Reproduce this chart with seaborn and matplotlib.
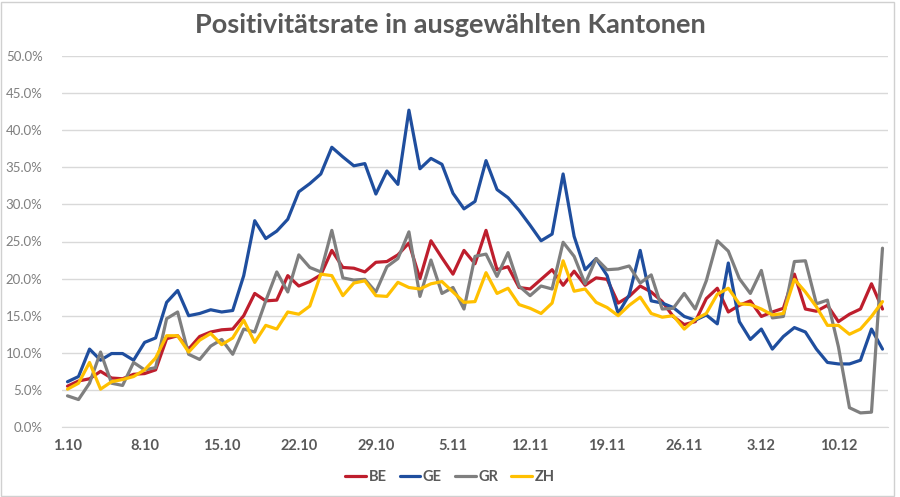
import numpy as np
import pandas as pd
import matplotlib
matplotlib.use("Agg")
import matplotlib.pyplot as plt
import seaborn as sns
from matplotlib.patches import Rectangle
from matplotlib.ticker import FixedLocator, PercentFormatter

# daily positivity rate (%) from 1.10 to 14.12
dates = pd.date_range("2020-10-01", "2020-12-14", freq="D")

be = [5.5, 6.2, 6.5, 7.5, 6.6, 6.5, 7.1, 7.2, 7.7, 11.9, 12.3, 10.5, 12.2, 12.8, 13.1, 13.2, 15.0, 18.0, 17.0,
      17.1, 20.4, 19.0, 19.6, 20.5, 23.8, 21.5, 21.4, 20.9, 22.2, 22.3, 23.2, 24.8, 20.0, 25.1, 22.8, 20.6, 23.8, 22.0,
      26.5, 21.2, 21.6, 18.8, 18.6, 19.9, 21.2, 19.1, 21.0, 19.1, 20.1, 19.9, 16.7, 17.6, 19.0, 18.2, 16.9, 14.9, 13.8,
      14.2, 17.3, 18.7, 15.5, 16.4, 17.0, 14.9, 15.5, 16.0, 20.6, 15.9, 15.6, 16.4, 14.2, 15.2, 15.9, 19.3, 15.9]
ge = [6.1, 6.8, 10.5, 9.0, 9.9, 9.9, 9.0, 11.4, 12.0, 16.8, 18.4, 15.0, 15.3, 15.8, 15.5, 15.7, 20.4, 27.8, 25.4,
      26.4, 28.0, 31.7, 32.8, 34.1, 37.7, 36.4, 35.2, 35.5, 31.4, 34.5, 32.7, 42.7, 34.8, 36.2, 35.4, 31.5, 29.4, 30.4,
      35.9, 32.0, 30.9, 29.2, 27.2, 25.1, 26.0, 34.1, 25.7, 21.2, 22.7, 20.4, 15.3, 17.8, 23.8, 17.0, 16.7, 16.1, 14.9,
      14.4, 15.1, 13.9, 22.1, 14.2, 11.8, 13.2, 10.5, 12.2, 13.4, 12.8, 10.5, 8.7, 8.5, 8.5, 9.0, 13.2, 10.5]
gr = [4.2, 3.7, 5.9, 10.1, 5.9, 5.6, 8.7, 7.7, 8.0, 14.6, 15.5, 9.8, 9.1, 10.9, 11.8, 9.8, 13.2, 12.8, 17.0,
      20.9, 18.2, 23.2, 21.5, 20.9, 26.5, 20.1, 19.8, 19.9, 18.2, 21.6, 22.7, 26.3, 17.6, 22.5, 18.0, 18.8, 15.9, 23.0,
      23.3, 20.3, 23.5, 19.0, 17.7, 19.0, 18.6, 24.9, 23.0, 19.3, 22.7, 21.2, 21.3, 21.7, 19.4, 20.5, 15.9, 16.0, 18.0,
      15.9, 19.7, 25.1, 23.7, 20.0, 18.0, 21.1, 14.7, 14.9, 22.3, 22.4, 16.6, 17.1, 10.8, 2.6, 1.9, 2.0, 24.1]
zh = [5.1, 5.9, 8.7, 5.1, 6.1, 6.4, 6.8, 7.7, 9.3, 12.3, 12.3, 10.1, 11.7, 12.6, 11.1, 12.0, 14.4, 11.4, 13.7,
      13.2, 15.5, 15.2, 16.3, 20.6, 20.4, 17.7, 19.4, 19.7, 17.7, 17.6, 19.5, 18.8, 18.6, 19.3, 19.6, 18.2, 16.8, 16.9,
      20.8, 18.0, 18.7, 16.5, 16.0, 15.3, 16.7, 22.4, 18.3, 18.6, 16.8, 16.1, 15.0, 16.4, 17.5, 15.3, 14.8, 15.0, 13.2,
      14.5, 15.3, 17.9, 18.7, 16.6, 16.5, 15.9, 15.1, 15.3, 19.9, 18.2, 16.2, 13.7, 13.7, 12.5, 13.2, 14.9, 16.9]

cantons = ["BE", "GE", "GR", "ZH"]
colors = {"BE": "#BE1E2D", "GE": "#1F4E9E", "GR": "#7F7F7F", "ZH": "#FFC000"}

day = np.arange(len(dates))
df = pd.concat([pd.DataFrame({"day": day, "rate": vals, "Kanton": name})
                for name, vals in zip(cantons, [be, ge, gr, zh])])

sns.set_style("white")
plt.rcParams["font.family"] = ["Lato", "DejaVu Sans"]

fig = plt.figure(figsize=(9, 4.97), dpi=100)
ax = fig.add_axes([62 / 900, 70 / 497, 826 / 900, 371 / 497])

sns.lineplot(data=df, x="day", y="rate", hue="Kanton", hue_order=cantons,
             palette=colors, linewidth=2.3, ax=ax, legend=False)

ax.set_xlim(-0.5, len(dates) - 0.5)
ax.set_ylim(0, 50)
ax.set_yticks(np.arange(0, 51, 5))
ax.yaxis.set_major_formatter(PercentFormatter(decimals=1))
ax.grid(axis="y", color="#D9D9D9", linewidth=1)
ax.set_axisbelow(True)

label_idx = day[::7]
ax.set_xticks(label_idx)
ax.set_xticklabels([f"{dates[i].day}.{dates[i].month}" for i in label_idx],
                   fontweight="bold", fontsize=10.5, color="#595959")
ax.xaxis.set_minor_locator(FixedLocator(label_idx - 0.5))
ax.tick_params(axis="x", which="major", length=0, pad=9)
ax.tick_params(axis="x", which="minor", length=5, color="#D9D9D9", width=1)
ax.tick_params(axis="y", length=0, labelsize=9.5, labelcolor="#7F7F7F", pad=14)

for s in ["top", "right", "left"]:
    ax.spines[s].set_visible(False)
ax.spines["bottom"].set_color("#D9D9D9")
ax.set_xlabel("")
ax.set_ylabel("")

fig.text(0.5, 1 - 25 / 497, "Positivitätsrate in ausgewählten Kantonen",
         ha="center", va="center", fontsize=19.5, fontweight="bold", color="#595959")

handles = [plt.Line2D([], [], color=colors[c], linewidth=2.3) for c in cantons]
leg = fig.legend(handles, cantons, loc="center", bbox_to_anchor=(0.5, 20 / 497),
                 ncol=4, frameon=False, handlelength=1.4, handletextpad=0.2,
                 columnspacing=0.9, prop={"weight": "bold", "size": 10.5})
for t in leg.get_texts():
    t.set_color("#595959")

fig.patches.append(Rectangle((0.001, 0.002), 0.992, 0.994, transform=fig.transFigure,
                             fill=False, edgecolor="#D0D0D0", linewidth=1))

fig.savefig("out.png", dpi=100)
